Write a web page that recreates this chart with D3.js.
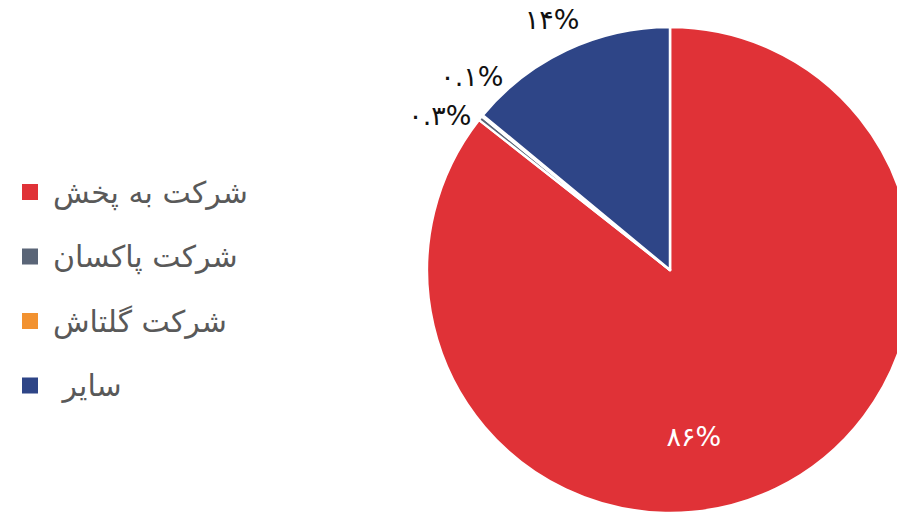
<!DOCTYPE html>
<html><head><meta charset="utf-8">
<script src="https://cdn.jsdelivr.net/npm/d3@7"></script>
<style>
html,body{margin:0;padding:0;background:#fff;}
svg{display:block;}
</style></head>
<body>
<svg id="chart" width="897" height="515"></svg>
<script>
const categories = ["شرکت به پخش", "شرکت پاکسان", "شرکت گلتاش", "\u00A0سایر"];
const values = [85.6, 0.3, 0.1, 14.0];
const valueLabels = ["۸۶%", "۰.۳%", "۰.۱%", "۱۴%"];
const colors = ["#E03237", "#5A6577", "#F29230", "#2E4587"];

const W = 897, H = 515;
const cx = 670, cy = 270, R = 243;
const svg = d3.select("#chart");

const pie = d3.pie().sort(null).value(d => d)(values);
const arc = d3.arc().innerRadius(0).outerRadius(R);

const g = svg.append("g").attr("transform", `translate(${cx},${cy})`);
g.selectAll("path").data(pie).join("path")
  .attr("d", arc)
  .attr("fill", (d, i) => colors[i])
  .attr("stroke", "#fff")
  .attr("stroke-width", 2.5)
  .attr("stroke-linejoin", "round");

// label placement
const mid = d => (d.startAngle + d.endAngle) / 2;
const outside = pie.map((d, i) => ({d, i, a: mid(d) - 2 * Math.PI, out: (d.endAngle - d.startAngle) < Math.PI}));
const outs = outside.filter(o => o.out).sort((a, b) => a.a - b.a);
const minGap = 10.5 * Math.PI / 180;
for (let iter = 0; iter < 50; iter++) {
  for (let k = 1; k < outs.length; k++) {
    const gap = outs[k].a - outs[k - 1].a;
    if (gap < minGap) {
      const push = (minGap - gap) / 2;
      outs[k].a += push; outs[k - 1].a -= push;
    }
  }
}
const outR = 277, inR = 168, inShift = 0.31;
outside.forEach(o => {
  let a, r;
  if (o.out) { a = o.a; r = outR; } else { a = mid(o.d) + inShift; r = inR; }
  o.x = r * Math.sin(a); o.y = -r * Math.cos(a);
});
g.selectAll("text.lbl").data(outside).join("text")
  .attr("class", "lbl")
  .attr("x", o => o.x).attr("y", o => o.y)
  .attr("text-anchor", "middle").attr("dominant-baseline", "central")
  .attr("font-family", "DejaVu Sans, sans-serif")
  .attr("font-size", 27)
  .attr("fill", o => o.out ? "#111" : "#fff")
  .text(o => valueLabels[o.i]);

// legend
const lg = svg.append("g").attr("transform", "translate(22,192)");
const item = lg.selectAll("g").data(categories).join("g")
  .attr("transform", (d, i) => `translate(0,${i * 64.5})`);
item.append("rect").attr("x", 0).attr("y", -8).attr("width", 16).attr("height", 16)
  .attr("fill", (d, i) => colors[i]);
item.append("text").attr("x", 31).attr("y", 0)
  .attr("dominant-baseline", "central")
  .attr("font-family", "DejaVu Sans, sans-serif")
  .attr("font-size", 30).attr("fill", "#595959")
  .text(d => d);
</script>
</body></html>
